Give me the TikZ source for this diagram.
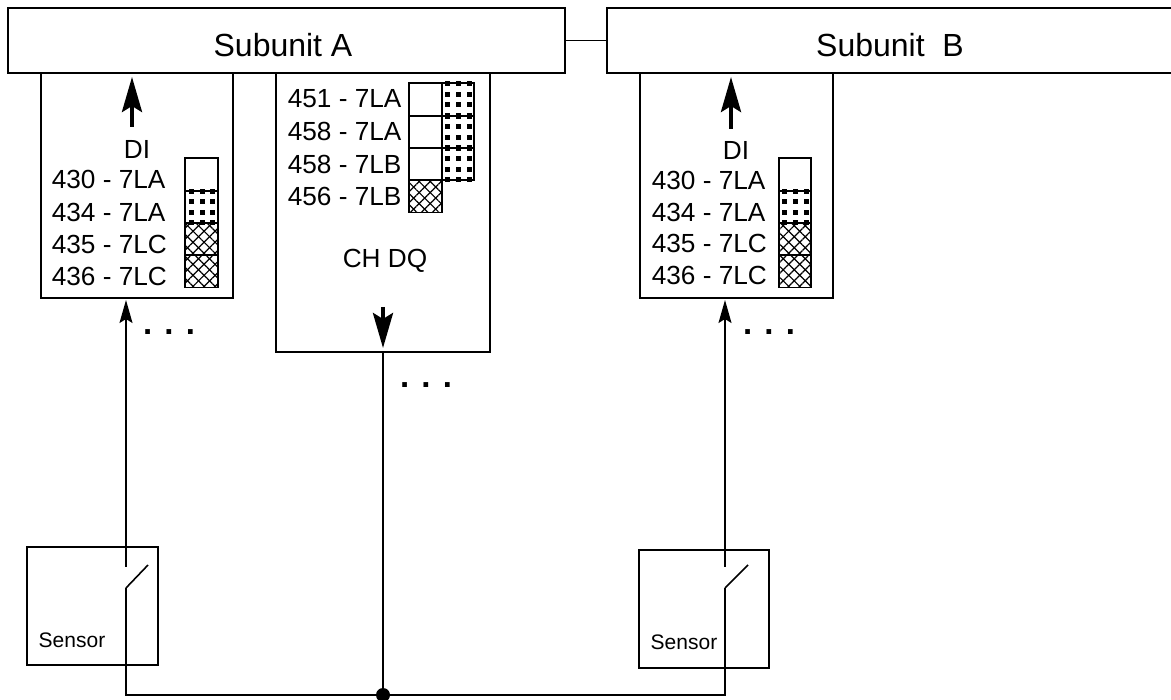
\documentclass[tikz,border=0pt]{standalone}
\usepackage{fontspec}
\setmainfont{Liberation Sans}
\usepackage{xcolor}
\usetikzlibrary{positioning, arrows.meta, patterns.meta}

\begin{document}
\begin{tikzpicture}[
  x=1pt, y=-1pt,
  line width=1.6pt,
  unitbox/.style={draw, inner sep=0pt, outer sep=0pt},
  subunit/.style={unitbox, minimum height=65pt, text height=33pt, text depth=0pt,
    font=\fontsize{32}{36}\selectfont},
  cell/.style={draw, line width=1.8pt, inner sep=0pt, outer sep=0pt,
    minimum width=32.5pt, minimum height=32.3pt},
  hatchcell/.style={cell,
    preaction={pattern={Lines[angle=45, distance=7.8pt, line width=1.2pt]}},
    pattern={Lines[angle=-45, distance=7.8pt, line width=1.2pt]}},
  lbl/.style={font=\fontsize{26.2}{30}\selectfont, inner sep=0pt, anchor=west},
  sensorlbl/.style={font=\fontsize{21}{24}\selectfont, inner sep=0pt},
  more/.style={font=\fontsize{33}{36}\selectfont\bfseries, inner sep=0pt, anchor=base},
  sig/.style={-{Stealth[length=23pt, width=13pt, inset=4pt]}},
  bus/.style={-{Stealth[length=35pt, width=20pt, inset=6pt]}, line width=4pt}
]
\useasboundingbox (0,0) rectangle (1171,700);

\node[subunit, minimum width=557pt] (suba) at (286.5,40.5) {Subunit A\hspace*{7pt}};
\node[subunit, minimum width=566pt, right=42pt of suba] (subb) {Subunit\ \ B};

\node[unitbox, minimum width=192pt, minimum height=225pt, below=0pt of suba.south west, xshift=129pt] (dia) {};
\node[unitbox, minimum width=214pt, minimum height=279pt] (dq) at (383,212.5) {};
\node[unitbox, minimum width=193pt, minimum height=225pt, below=0pt of subb.south west, xshift=129.5pt] (dib) {};

% left DI block
\node[cell] (cella) at (201.5,174.5) {};
\node[cell, below=0pt of cella] (cellb) {};
\node[hatchcell, below=0pt of cellb] (cellc) {};
\node[hatchcell, below=0pt of cellc] (celld) {};
\node[font=\fontsize{26.2}{30}\selectfont, inner sep=0pt] (dilbla) at (137,149) {DI};
\node[lbl] (la) at (51,179) {430 - 7LA};
\node[lbl] (lb) at (51,212) {434 - 7LA};
\node[lbl] (lc) at (51,244) {435 - 7LC};
\node[lbl] (ld) at (51,276) {436 - 7LC};

% channel block
\node[cell] (qa) at (425.5,99.5) {};
\node[cell, below=0pt of qa] (qb) {};
\node[cell, below=0pt of qb] (qc) {};
\node[hatchcell, below=0pt of qc] (qd) {};
\node[cell, right=0pt of qa] (ra) {};
\node[cell, right=0pt of qb] (rb) {};
\node[cell, right=0pt of qc] (rc) {};
\node[lbl] (ma) at (287,99) {451 - 7LA};
\node[lbl] (mb) at (287,131) {458 - 7LA};
\node[lbl] (mc) at (287,164) {458 - 7LB};
\node[lbl] (md) at (287,196) {456 - 7LB};
\node[font=\fontsize{26.2}{30}\selectfont, inner sep=0pt] (dqlbl) at (385,261) {CH DQ};

% right DI block
\node[cell] (celle) at (795,174.5) {};
\node[cell, below=0pt of celle] (cellf) {};
\node[hatchcell, below=0pt of cellf] (cellg) {};
\node[hatchcell, below=0pt of cellg] (cellh) {};
\node[font=\fontsize{26.2}{30}\selectfont, inner sep=0pt] (dilblb) at (736,150) {DI};
\node[lbl] (na) at (651,180) {430 - 7LA};
\node[lbl] (nb) at (651,212) {434 - 7LA};
\node[lbl] (nc) at (651,243) {435 - 7LC};
\node[lbl] (nd) at (651,275) {436 - 7LC};

% square dots of the second fill
\foreach \c in {cellb, cellf, ra, rb, rc}
  \foreach \i in {6.2,16.8,27.4}
    \foreach \j in {0.5,10.8,21.4,32}
      \fill[shift={(\c.north west)}] (\i-2.5,\j-2.5) rectangle (\i+2.5,\j+2.5);

\node[more] (morea) at (169,335) {. . .};
\node[more] (moreq) at (426,388) {. . .};
\node[more] (moreb) at (769,335) {. . .};

% sensors
\node[unitbox, minimum width=131pt, minimum height=118pt] (sensa) at (92.5,606) {};
\node[unitbox, minimum width=130pt, minimum height=118pt] (sensb) at (704,609) {};
\node[sensorlbl] (senslbla) at (72,640) {Sensor};
\node[sensorlbl] (senslblb) at (684,642) {Sensor};

\coordinate (swa) at (126,567);
\coordinate (piva) at (126,588);
\coordinate (bladea) at (148,565);
\coordinate (swb) at (725,567);
\coordinate (pivb) at (725,588);
\coordinate (bladeb) at (748,565);
\node[circle, fill=black, minimum size=14pt, inner sep=0pt] (junc) at (383,695) {};

\coordinate (busa) at (132,127);
\coordinate (tipa) at (132,77);
\coordinate (busb) at (731,129);
\coordinate (tipb) at (731,77);
\coordinate (busq) at (383,307);
\coordinate (tipq) at (383,348);

\draw (suba) -- (subb);
\draw[sig, shorten >=2pt] (swa) -- (swa |- dia.south);
\draw[sig, shorten >=2pt] (swb) -- (swb |- dib.south);
\draw (piva) -- (bladea);
\draw (pivb) -- (bladeb);
\draw (piva) -- (piva |- junc) -- (pivb |- junc) -- (pivb);
\draw (junc.center) -- (dq.south);
\draw[bus] (busa) -- (tipa);
\draw[bus] (busb) -- (tipb);
\draw[bus] (busq) -- (tipq);
\end{tikzpicture}
\end{document}
